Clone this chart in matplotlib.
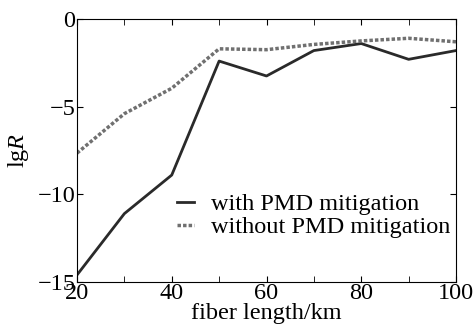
import matplotlib
matplotlib.use("Agg")
import matplotlib.pyplot as plt
from matplotlib.ticker import MultipleLocator

length_km = [20, 30, 40, 50, 60, 70, 80, 90, 100]
with_pmd = [-14.6, -11.1, -8.9, -2.4, -3.25, -1.8, -1.4, -2.3, -1.8]
without_pmd = [-7.65, -5.4, -3.95, -1.7, -1.75, -1.45, -1.25, -1.1, -1.3]

plt.rcParams['font.family'] = ['Liberation Serif', 'DejaVu Serif']
plt.rcParams['mathtext.fontset'] = 'custom'
plt.rcParams['mathtext.it'] = 'Liberation Serif:italic'
plt.rcParams['mathtext.rm'] = 'Liberation Serif'

fig = plt.figure(figsize=(4.73, 3.33), dpi=100)
ax = fig.add_axes([77/473, 1-282/333, (456-77)/473, (282-19)/333])

ax.plot(length_km, with_pmd, color='#2a2a2a', lw=2.0, label='with PMD mitigation')
ax.plot(length_km, without_pmd, color='#707070', lw=2.5, linestyle=(0, (1, 0.6)), label='without PMD mitigation')

ax.set_xlim(20, 100)
ax.set_ylim(-15, 0)
ax.xaxis.set_major_locator(MultipleLocator(20))
ax.xaxis.set_minor_locator(MultipleLocator(10))
ax.yaxis.set_major_locator(MultipleLocator(5))
ax.tick_params(which='both', direction='in', top=True, right=True, labelsize=17.5, pad=1)
ax.tick_params(which='major', length=4)
ax.tick_params(which='minor', length=4)
for s in ax.spines.values():
    s.set_linewidth(0.8)

ax.set_xlabel('fiber length/km', fontsize=17.5, labelpad=-1)
ax.set_ylabel(r'lg$R$', fontsize=17.5, labelpad=5)

ax.legend(loc='lower right', bbox_to_anchor=(1.017, 0.12), frameon=False, fontsize=17.5,
          handlelength=0.7, handletextpad=0.7, labelspacing=0.05, borderaxespad=0.1)

fig.savefig('out.png', dpi=100)
